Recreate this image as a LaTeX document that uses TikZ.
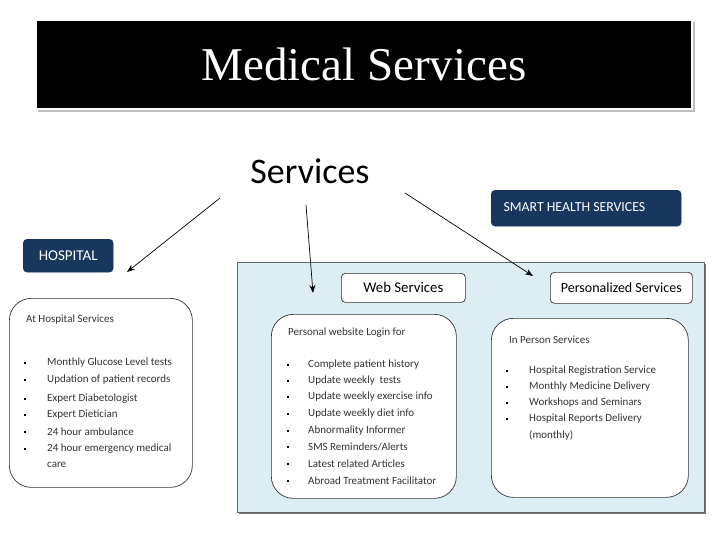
\documentclass[tikz,border=0pt]{standalone}
\usepackage{fontspec}
\setmainfont{Liberation Serif}
\newfontfamily\carlfont{Carlito}
\usetikzlibrary{arrows.meta}
\definecolor{navy}{HTML}{17375E}
\definecolor{lightblue}{HTML}{DCEEF4}
\newcommand\myslash{/}
\begin{document}
\begin{tikzpicture}[x=1pt,y=-1pt,
  tag/.style={fill=navy,draw=navy!80!black,rounded corners=4pt,inner sep=0pt,anchor=north west},
  roundbox/.style={draw=black!80,fill=white,rounded corners=22pt,line width=0.7pt},
  labelbox/.style={draw=black!80,fill=white,rounded corners=4pt,line width=0.7pt},
  item/.style={font=\carlfont\fontsize{11}{12}\selectfont,text=black!80,anchor=west,inner sep=0pt},
  dot/.style={rectangle,fill=black,inner sep=0pt,minimum size=2.8pt},
  arr/.style={-{Stealth[length=8pt,width=6pt]},line width=0.7pt}]
\useasboundingbox (0,0) rectangle (728,546);
% title
\fill[black!25] (38,22) rectangle (695,112);
\node[draw=white,line width=1.5pt,fill=black,minimum width=656pt,minimum height=89pt,inner sep=0pt] (title) at (364,64.5) {};
\node[text=white,font=\fontsize{47}{50}\selectfont,anchor=base] (titletxt) at (364,80) {Medical Services};
% Services
\node[font=\carlfont\fontsize{36}{40}\selectfont,anchor=base,inner sep=0pt] (services) at (310,183) {Services};
% tags
\node[tag,minimum width=90pt,minimum height=33pt] (hosp) at (23,239) {};
\node[font=\carlfont\fontsize{15}{17}\selectfont,text=white] (hosptxt) at (hosp.center) {HOSPITAL};
\node[tag,minimum width=190pt,minimum height=36pt] (smart) at (491,190) {};
\node[font=\carlfont\fontsize{13.8}{16}\selectfont,text=white,anchor=west] (smarttxt) at (500,207) {SMART HEALTH SERVICES};
% big light blue
\fill[black!55] (239,264) rectangle (706,514);
\node[draw=black!60,fill=lightblue,line width=0.7pt,minimum width=467pt,minimum height=250pt,inner sep=0pt,anchor=north west] (big) at (237,262) {};
% small label boxes
\node[labelbox,minimum width=124pt,minimum height=29pt,inner sep=0pt,anchor=north west] (web) at (341,273) {};
\node[font=\carlfont\fontsize{14.8}{16}\selectfont] (webtxt) at (web.center) {Web Services};
\node[labelbox,minimum width=142pt,minimum height=31pt,inner sep=0pt,anchor=north west] (pers) at (550,272) {};
\node[font=\carlfont\fontsize{14}{16}\selectfont] (perstxt) at (pers.center) {Personalized Services};
% rounded content boxes
\node[roundbox,minimum width=183pt,minimum height=189pt,inner sep=0pt,anchor=north west] (hbox) at (9,298) {};
\node[roundbox,minimum width=185pt,minimum height=184pt,inner sep=0pt,anchor=north west] (wbox) at (271,314) {};
\node[roundbox,minimum width=197pt,minimum height=179pt,inner sep=0pt,anchor=north west] (ibox) at (491,318) {};
% hospital items
\node[item] (h0) at (26,320) {At Hospital Services};
\foreach \t/\y [count=\i] in {Monthly Glucose Level tests/363,Updation of patient records/380,Expert Diabetologist/399,Expert Dietician/415,24 hour ambulance/432,24 hour emergency medical/449}{
  \node[dot] (hd\i) at (25,\y) {};
  \node[item] (h\i) at (47,\y) {\t};
}
\node[item] (h7) at (47,465) {care};
% web items
\node[item] (w0) at (288,333) {Personal website Login for};
\foreach \t/\y [count=\i] in {Complete patient history/365,Update weekly\ \ tests/381,Update weekly exercise info/397,Update weekly diet info/414,Abnormality Informer/431,SMS Reminders\myslash Alerts/447,Latest related Articles/464,Abroad Treatment Facilitator/481}{
  \node[dot] (wd\i) at (288,\y) {};
  \node[item] (w\i) at (308,\y) {\t};
}
% in person items
\node[item] (p0) at (509,340) {In Person Services};
\foreach \t/\y [count=\i] in {Hospital Registration Service/371,Monthly Medicine Delivery/387,Workshops and Seminars/403,Hospital Reports Delivery/419}{
  \node[dot] (pd\i) at (507,\y) {};
  \node[item] (p\i) at (529,\y) {\t};
}
\node[item] (p5) at (529,435) {(monthly)};
% arrows
\coordinate (s1) at (220,198);
\coordinate (s2) at (306,205);
\coordinate (s3) at (405,193);
\coordinate (a1) at (127,272);
\coordinate (a2) at (313,293);
\coordinate (a3) at (533,276);
\draw[arr] (s1) -- (a1);
\draw[arr] (s2) -- (a2);
\draw[arr] (s3) -- (a3);
\end{tikzpicture}
\end{document}
